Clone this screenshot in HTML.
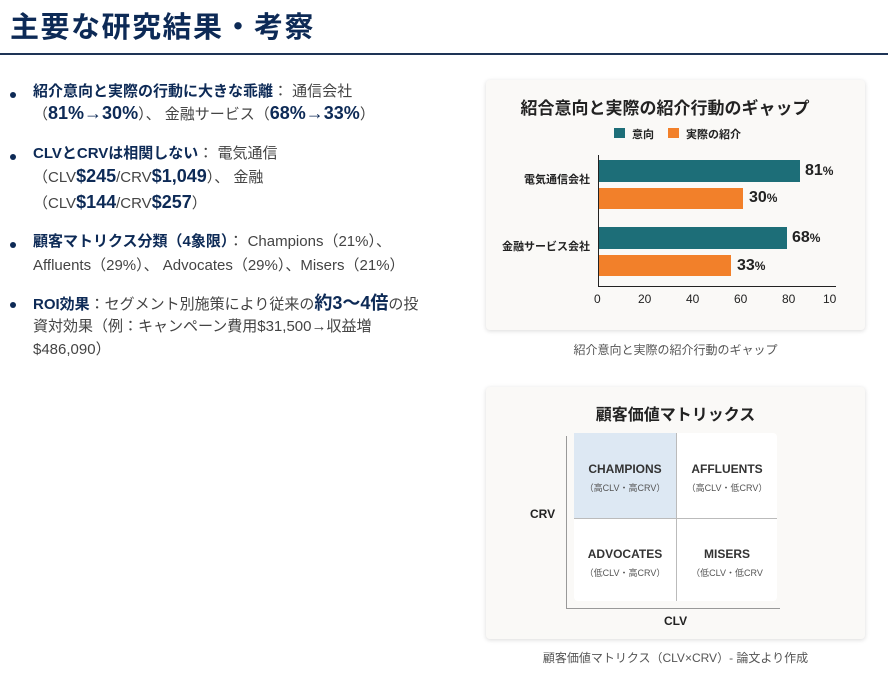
<!DOCTYPE html>
<html><head><meta charset="utf-8"><style>
*{margin:0;padding:0;box-sizing:border-box}
body{width:896px;height:680px;background:#fff;position:relative;overflow:hidden;font-family:"Liberation Sans","Noto Sans CJK JP",sans-serif;color:#333}
.a{position:absolute;white-space:nowrap}
h1{position:absolute;left:10px;top:4px;font-size:29px;font-weight:bold;color:#0d2a56;letter-spacing:1.5px}
.rule{position:absolute;left:0;top:53px;width:888px;height:2px;background:#1e3456}
.t{position:absolute;left:33px;font-size:15px;color:#444;white-space:nowrap}
.b{color:#0d2a56;font-weight:bold}
.bb{color:#0d2a56;font-weight:bold;font-size:18px}
.dot{position:absolute;left:10px;width:6px;height:6px;border-radius:50%;background:#0d2a56}
.card{position:absolute;left:486px;width:379px;background:#faf9f7;border-radius:4px;box-shadow:0 1px 5px rgba(0,0,0,0.15)}
.cap{position:absolute;font-size:12px;color:#555;text-align:center;width:379px;left:486px}
.tk{position:absolute;top:292px;font-size:12px;color:#222}
</style></head><body>
<h1>主要な研究結果・考察</h1>
<div class="rule"></div>

<div class="dot" style="top:92px"></div>
<div class="t" style="top:80px"><span class="b">紹介意向と実際の行動に大きな乖離</span>： 通信会社</div>
<div class="t" style="top:103px">（<span class="bb">81%→30%</span>）、 金融サービス（<span class="bb">68%→33%</span>）</div>
<div class="dot" style="top:154px"></div>
<div class="t" style="top:142px"><span class="b">CLVとCRVは相関しない</span>： 電気通信</div>
<div class="t" style="top:166px">（CLV<span class="bb">$245</span>/CRV<span class="bb">$1,049</span>）、 金融</div>
<div class="t" style="top:192px">（CLV<span class="bb">$144</span>/CRV<span class="bb">$257</span>）</div>
<div class="dot" style="top:242px"></div>
<div class="t" style="top:230px"><span class="b">顧客マトリクス分類（4象限）</span>： Champions（21%）、</div>
<div class="t" style="top:254px">Affluents（29%）、 Advocates（29%）、Misers（21%）</div>
<div class="dot" style="top:302px"></div>
<div class="t" style="top:289px"><span class="b">ROI効果</span>：セグメント別施策により従来の<span class="bb">約3〜4倍</span>の投</div>
<div class="t" style="top:315px">資対効果（例：キャンペーン費用$31,500→収益増</div>
<div class="t" style="top:338px">$486,090）</div>

<div class="card" style="top:80px;height:250px"></div>
<div class="a" style="left:486px;width:358px;text-align:center;top:94px;font-size:17px;font-weight:bold;color:#222">紹合意向と実際の紹介行動のギャップ</div>
<div class="a" style="left:614px;top:128px;width:11px;height:10px;background:#1d6e78"></div>
<div class="a" style="left:632px;top:126px;font-size:11px;font-weight:bold;color:#222">意向</div>
<div class="a" style="left:668px;top:128px;width:11px;height:10px;background:#f2802a"></div>
<div class="a" style="left:686px;top:126px;font-size:11px;font-weight:bold;color:#222">実際の紹介</div>
<div class="a" style="left:598px;top:155px;width:1px;height:131px;background:#222"></div>
<div class="a" style="left:598px;top:286px;width:238px;height:1px;background:#222"></div>
<div class="a" style="left:599px;top:160px;width:201px;height:22px;background:#1d6e78"></div>
<div class="a" style="left:599px;top:188px;width:144px;height:21px;background:#f2802a"></div>
<div class="a" style="left:599px;top:227px;width:188px;height:22px;background:#1d6e78"></div>
<div class="a" style="left:599px;top:255px;width:132px;height:21px;background:#f2802a"></div>
<div class="a" style="left:805px;top:162px;font-size:16px;font-weight:bold;color:#222">81<span style="font-size:12px">%</span></div>
<div class="a" style="left:749px;top:189px;font-size:16px;font-weight:bold;color:#222">30<span style="font-size:12px">%</span></div>
<div class="a" style="left:792px;top:229px;font-size:16px;font-weight:bold;color:#222">68<span style="font-size:12px">%</span></div>
<div class="a" style="left:737px;top:257px;font-size:16px;font-weight:bold;color:#222">33<span style="font-size:12px">%</span></div>
<div class="a" style="right:306px;top:171px;font-size:11px;font-weight:bold;color:#222">電気通信会社</div>
<div class="a" style="right:306px;top:238px;font-size:11px;font-weight:bold;color:#222">金融サービス会社</div>
<div class="tk" style="left:594px">0</div>
<div class="tk" style="left:638px">20</div>
<div class="tk" style="left:686px">40</div>
<div class="tk" style="left:734px">60</div>
<div class="tk" style="left:782px">80</div>
<div class="tk" style="left:823px">10</div>
<div class="cap" style="top:341px">紹介意向と実際の紹介行動のギャップ</div>

<div class="card" style="top:387px;height:252px"></div>
<div class="a" style="left:486px;width:379px;text-align:center;top:401px;font-size:16px;font-weight:bold;color:#222">顧客価値マトリックス</div>
<div class="a" style="left:574px;top:433px;width:203px;height:168px;background:#fff;border-radius:4px"></div>
<div class="a" style="left:574px;top:433px;width:102px;height:85px;background:#dde8f3"></div>
<div class="a" style="left:676px;top:433px;width:1px;height:168px;background:#bbb"></div>
<div class="a" style="left:574px;top:518px;width:203px;height:1px;background:#bbb"></div>
<div class="a" style="left:566px;top:436px;width:1px;height:172px;background:#999"></div>
<div class="a" style="left:566px;top:608px;width:214px;height:1px;background:#999"></div>
<div class="a" style="left:574px;width:102px;text-align:center;top:462px;font-size:12px;font-weight:bold;color:#333">CHAMPIONS</div>
<div class="a" style="left:574px;width:102px;text-align:center;top:481px;font-size:9px;color:#555">（高CLV・高CRV）</div>
<div class="a" style="left:676px;width:102px;text-align:center;top:462px;font-size:12px;font-weight:bold;color:#333">AFFLUENTS</div>
<div class="a" style="left:676px;width:102px;text-align:center;top:481px;font-size:9px;color:#555">（高CLV・低CRV）</div>
<div class="a" style="left:574px;width:102px;text-align:center;top:547px;font-size:12px;font-weight:bold;color:#333">ADVOCATES</div>
<div class="a" style="left:574px;width:102px;text-align:center;top:566px;font-size:9px;color:#555">（低CLV・高CRV）</div>
<div class="a" style="left:676px;width:102px;text-align:center;top:547px;font-size:12px;font-weight:bold;color:#333">MISERS</div>
<div class="a" style="left:676px;width:102px;text-align:center;top:566px;font-size:9px;color:#555">（低CLV・低CRV</div>
<div class="a" style="left:530px;top:507px;font-size:12px;font-weight:bold;color:#222">CRV</div>
<div class="a" style="left:664px;top:614px;font-size:12px;font-weight:bold;color:#222">CLV</div>
<div class="cap" style="top:649px;width:385px;left:483px">顧客価値マトリクス（CLV×CRV）- 論文より作成</div>
</body></html>
